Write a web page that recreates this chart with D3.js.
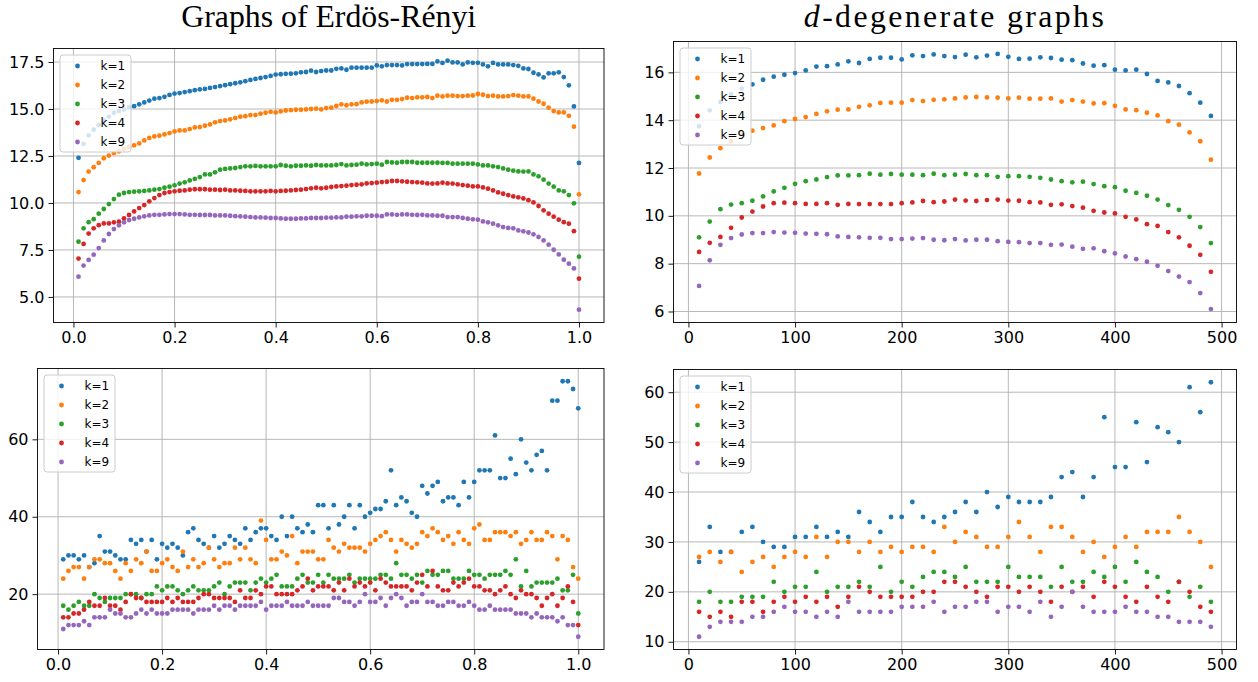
<!DOCTYPE html>
<html>
<head>
<meta charset="utf-8">
<script src="https://cdn.jsdelivr.net/npm/d3@7"></script>
<style>
  body { margin: 0; background: #fff; }
  svg { display: block; }
  text { font-family: "DejaVu Sans", sans-serif; }
</style>
</head>
<body>
<div id="chart"></div>
<script>
const width = 1258;
const height = 682;

const labels = ["k=1", "k=2", "k=3", "k=4", "k=9"];
const colors = ["#1f77b4", "#ff7f0e", "#2ca02c", "#d62728", "#9467bd"];

// x positions: probabilities p for Erdos-Renyi, d for d-degenerate
const erX = d3.range(1, 101).map(i => i / 100);
const degX = d3.range(10, 500, 10);

// top left: Erdos-Renyi, mean values
const erMeanK1 = [12.4,13.15,13.6,13.9,14.15,14.4,14.6,14.8,14.9,14.97,
  15.1,15.15,15.25,15.35,15.45,15.55,15.58,15.65,15.75,15.82,
  15.85,15.9,15.95,16.0,16.05,16.07,16.12,16.17,16.22,16.27,
  16.32,16.37,16.42,16.48,16.55,16.6,16.65,16.7,16.76,16.83,
  16.85,16.87,16.88,16.9,16.95,16.97,17.04,16.97,17.02,17.05,
  17.05,17.14,17.16,17.09,17.2,17.2,17.2,17.2,17.2,17.32,
  17.27,17.34,17.34,17.34,17.32,17.39,17.39,17.39,17.39,17.4,
  17.4,17.53,17.45,17.57,17.48,17.48,17.37,17.48,17.46,17.46,
  17.37,17.27,17.45,17.37,17.37,17.37,17.34,17.3,17.16,17.13,
  16.93,16.84,16.68,16.9,16.9,16.95,16.7,16.26,15.14,12.13];
const erMeanK2 = [10.58,11.22,11.67,11.9,12.13,12.38,12.52,12.66,12.75,12.87,
  12.97,13.07,13.17,13.33,13.46,13.54,13.58,13.65,13.72,13.81,
  13.86,13.86,13.93,14.02,14.04,14.11,14.18,14.29,14.36,14.39,
  14.45,14.52,14.59,14.62,14.68,14.68,14.75,14.8,14.85,14.82,
  14.87,14.92,14.94,14.96,14.96,14.98,15.0,15.02,14.98,15.05,
  15.07,15.16,15.25,15.2,15.25,15.26,15.35,15.39,15.4,15.42,
  15.46,15.4,15.49,15.49,15.53,15.6,15.58,15.62,15.62,15.64,
  15.58,15.71,15.67,15.71,15.71,15.69,15.69,15.71,15.72,15.8,
  15.76,15.69,15.71,15.67,15.67,15.69,15.74,15.71,15.67,15.67,
  15.55,15.4,15.28,15.07,14.89,14.82,14.82,14.64,14.06,10.46];
const erMeanK3 = [7.94,8.65,8.98,9.14,9.43,9.68,9.94,10.21,10.44,10.53,
  10.58,10.6,10.62,10.64,10.67,10.71,10.74,10.81,10.87,10.94,
  11.03,11.1,11.2,11.28,11.38,11.52,11.52,11.63,11.77,11.81,
  11.84,11.86,11.91,11.95,11.95,11.97,11.95,11.95,11.95,11.95,
  12.02,11.98,11.95,11.98,11.98,12.0,11.98,12.02,12.0,12.0,
  12.0,12.02,12.07,12.0,12.02,12.04,12.09,12.05,12.07,12.09,
  12.04,12.18,12.16,12.14,12.18,12.18,12.18,12.14,12.14,12.14,
  12.14,12.14,12.13,12.13,12.09,12.09,12.09,12.09,12.09,12.05,
  12.0,12.0,11.95,11.91,11.84,11.77,11.72,11.68,11.67,11.68,
  11.52,11.42,11.24,11.03,10.87,10.67,10.62,10.42,9.98,7.14];
const erMeanK4 = [7.04,7.82,8.37,8.65,8.82,8.91,8.91,8.97,9.0,9.18,
  9.36,9.55,9.73,9.89,10.09,10.26,10.42,10.53,10.58,10.62,
  10.65,10.67,10.71,10.73,10.73,10.73,10.71,10.71,10.69,10.71,
  10.67,10.67,10.65,10.64,10.62,10.62,10.62,10.62,10.64,10.62,
  10.64,10.65,10.67,10.69,10.71,10.74,10.78,10.81,10.78,10.81,
  10.85,10.88,10.9,10.92,10.95,10.97,10.99,11.04,11.06,11.08,
  11.11,11.13,11.17,11.17,11.15,11.13,11.11,11.1,11.08,11.04,
  11.03,11.04,11.08,11.04,11.03,10.99,10.95,10.92,10.88,10.88,
  10.83,10.76,10.67,10.56,10.49,10.42,10.35,10.3,10.24,10.15,
  10.03,9.84,9.61,9.43,9.27,9.11,8.98,8.9,8.5,5.97];
const erMeanK9 = [6.08,6.67,6.97,7.25,7.6,8.01,8.35,8.61,8.81,8.97,
  9.09,9.16,9.23,9.29,9.34,9.37,9.37,9.39,9.41,9.41,
  9.41,9.39,9.37,9.37,9.36,9.36,9.36,9.34,9.34,9.34,
  9.32,9.3,9.29,9.27,9.25,9.23,9.23,9.22,9.2,9.2,
  9.18,9.16,9.16,9.16,9.18,9.18,9.2,9.2,9.2,9.22,
  9.22,9.23,9.23,9.27,9.27,9.29,9.29,9.32,9.32,9.32,
  9.3,9.39,9.39,9.37,9.39,9.39,9.37,9.36,9.37,9.34,
  9.34,9.32,9.32,9.25,9.25,9.25,9.2,9.16,9.13,9.11,
  9.02,8.97,8.9,8.81,8.72,8.67,8.65,8.54,8.49,8.43,
  8.33,8.19,8.01,7.78,7.51,7.26,6.98,6.77,6.52,4.32];

// bottom left: Erdos-Renyi, max values
const erMaxK1 = [29,30,30,29,30,27,28,35,31,31, 30,29,29,34,33,34,31,34,29,33,
  32,33,32,30,36,37,34,33,32,35, 32,33,35,34,33,37,34,36,37,37,
  35,34,40,35,40,37,36,38,36,43, 43,37,43,38,40,43,37,43,40,41,
  42,42,44,52,43,45,44,41,40,48, 46,48,49,44,45,45,43,49,45,49,
  52,52,52,61,50,50,55,51,60,54, 52,56,57,52,70,70,75,75,73,68];
const erMaxK2 = [24,26,27,27,24,27,29,29,28,28, 26,24,28,26,29,28,31,26,26,28,
  29,27,26,31,27,29,27,28,32,29, 27,28,28,32,29,32,29,28,39,34,
  29,29,31,30,35,28,31,31,31,29, 29,34,32,31,33,32,32,32,31,33,
  34,35,36,34,31,34,33,32,33,36, 35,37,36,34,35,33,36,34,33,37,
  38,34,34,36,36,36,35,36,33,34, 36,34,34,36,35,29,35,34,27,24];
const erMaxK3 = [17,16,17,18,17,17,20,19,18,19, 19,19,20,20,20,19,20,20,22,21,
  22,22,21,20,21,22,21,21,21,22, 23,20,22,23,23,23,21,23,24,23,
  24,25,22,22,22,24,25,23,23,25, 23,25,24,24,24,25,23,24,24,24,
  24,25,25,24,28,25,25,24,25,23, 26,25,25,26,26,24,24,24,26,25,
  25,24,25,25,25,26,25,29,22,26, 22,23,23,23,23,24,21,21,25,15];
const erMaxK4 = [14,14,15,15,16,18,17,17,19,17, 17,16,18,20,19,19,18,18,18,18,
  19,18,19,18,18,18,19,20,20,19, 19,19,19,18,21,19,19,21,20,22,
  22,20,20,20,20,21,22,24,21,22, 22,22,21,23,21,24,22,23,22,23,
  21,24,23,22,22,22,22,21,23,25, 22,26,22,21,21,23,22,23,24,22,
  22,21,21,20,21,22,20,19,21,20, 20,19,17,19,20,17,19,22,18,12];
const erMaxK9 = [11,12,12,12,13,12,14,14,14,16, 15,15,14,14,15,16,15,16,15,15,
  15,16,16,16,16,15,16,16,16,17, 16,17,17,16,17,17,17,17,18,16,
  17,17,17,18,17,17,17,18,17,17, 17,17,19,19,18,18,17,18,20,18,
  18,19,17,19,20,19,17,18,18,20, 18,18,17,17,18,18,17,17,18,17,
  16,16,17,16,16,16,16,15,15,15, 14,15,14,14,14,13,14,12,12,9];

// top right: d-degenerate, mean values
const degMeanK1 = [13.75,14.41,14.76,15.09,15.32,15.5,15.69,15.82,15.9,15.97,
  16.08,16.24,16.26,16.33,16.46,16.39,16.56,16.61,16.61,16.54,
  16.71,16.68,16.75,16.68,16.64,16.74,16.63,16.7,16.77,16.65,
  16.56,16.57,16.63,16.6,16.53,16.51,16.37,16.28,16.3,16.11,
  16.08,16.11,15.93,15.64,15.58,15.43,15.13,14.73,14.18];
const degMeanK2 = [11.77,12.44,12.83,13.12,13.42,13.56,13.67,13.78,13.96,14.05,
  14.13,14.26,14.37,14.44,14.45,14.56,14.62,14.72,14.73,14.73,
  14.84,14.8,14.85,14.87,14.91,14.95,14.97,14.95,14.94,14.91,
  14.94,14.9,14.9,14.91,14.78,14.84,14.78,14.7,14.71,14.6,
  14.45,14.42,14.31,14.2,13.96,13.81,13.49,13.12,12.35];
const degMeanK3 = [9.1,9.76,10.28,10.47,10.53,10.63,10.81,11.02,11.17,11.34,
  11.45,11.52,11.62,11.69,11.69,11.7,11.76,11.72,11.75,11.72,
  11.72,11.7,11.76,11.7,11.72,11.75,11.7,11.7,11.63,11.66,
  11.66,11.63,11.59,11.52,11.45,11.4,11.43,11.33,11.24,11.2,
  11.05,10.96,10.84,10.68,10.45,10.25,9.96,9.53,8.86];
const degMeanK4 = [8.49,8.87,9.12,9.5,9.93,10.18,10.39,10.53,10.55,10.53,
  10.5,10.5,10.53,10.46,10.5,10.49,10.49,10.49,10.49,10.53,
  10.56,10.62,10.57,10.6,10.68,10.64,10.62,10.66,10.68,10.64,
  10.63,10.57,10.56,10.46,10.48,10.41,10.34,10.21,10.14,10.1,
  9.96,9.85,9.65,9.58,9.32,9.1,8.75,8.37,7.66];
const degMeanK9 = [7.07,8.14,8.79,9.07,9.22,9.28,9.28,9.32,9.3,9.29,
  9.26,9.25,9.23,9.14,9.12,9.1,9.08,9.08,9.03,9.03,
  9.05,9.07,9.0,8.98,9.03,8.97,9.0,9.0,8.94,8.91,
  8.9,8.86,8.86,8.79,8.8,8.71,8.62,8.64,8.52,8.43,
  8.3,8.19,8.08,7.91,7.69,7.46,7.23,6.77,6.1];

// bottom right: d-degenerate, max values
const degMaxK1 = [26,33,28,28,32,33,30,29,29,31, 31,33,31,32,31,36,34,32,35,35,
  38,35,34,35,36,38,36,40,37,39, 38,38,38,39,43,44,39,43,55,45,
  45,54,46,53,52,50,61,56,62];
const degMaxK2 = [27,28,26,28,24,26,27,25,27,28, 27,31,27,30,30,28,30,28,29,28,
  29,29,28,33,30,32,31,29,29,31, 34,31,28,33,33,31,28,30,27,29,
  31,29,32,32,32,35,32,30,25];
const degMaxK3 = [18,20,18,18,19,19,19,22,20,21, 21,24,20,21,21,22,21,25,20,22,
  21,23,24,24,23,25,22,22,22,25, 23,23,23,21,25,22,22,24,23,25,
  22,26,24,23,20,22,19,21,18];
const degMaxK4 = [16,15,16,15,18,18,16,18,19,18, 19,18,19,17,19,21,20,19,19,19,
  19,20,20,22,22,21,20,19,21,21, 20,21,20,18,21,20,21,19,22,21,
  19,18,21,19,18,22,20,17,16];
const degMaxK9 = [11,13,14,14,14,15,15,16,17,16, 16,15,16,15,18,16,16,16,16,17,
  17,17,18,16,17,17,18,18,16,17, 17,16,18,15,17,20,17,16,16,16,
  17,16,16,15,15,14,14,14,13];

const svg = d3.select("#chart")
  .append("svg")
  .attr("width", width)
  .attr("height", height);

const panels = [
  { left: 53.5, right: 604, top: 48.5, bottom: 322.5,
    xs: erX, xDomain: [-0.0395, 1.0495], yDomain: [3.64, 18.22],
    xTicks: [0, 0.2, 0.4, 0.6, 0.8, 1.0], xFmt: d3.format(".1f"),
    yTicks: [5, 7.5, 10, 12.5, 15, 17.5], yFmt: d3.format(".1f"),
    series: [erMeanK1, erMeanK2, erMeanK3, erMeanK4, erMeanK9] },
  { left: 37.5, right: 604, top: 368.5, bottom: 649.5,
    xs: erX, xDomain: [-0.0395, 1.0495], yDomain: [5.7, 78.3],
    xTicks: [0, 0.2, 0.4, 0.6, 0.8, 1.0], xFmt: d3.format(".1f"),
    yTicks: [20, 40, 60], yFmt: d3.format("d"),
    series: [erMaxK1, erMaxK2, erMaxK3, erMaxK4, erMaxK9] },
  { left: 673.5, right: 1236.5, top: 41.5, bottom: 322.5,
    xs: degX, xDomain: [-14, 514], yDomain: [5.54, 17.29],
    xTicks: [0, 100, 200, 300, 400, 500], xFmt: d3.format("d"),
    yTicks: [6, 8, 10, 12, 14, 16], yFmt: d3.format("d"),
    series: [degMeanK1, degMeanK2, degMeanK3, degMeanK4, degMeanK9] },
  { left: 673.5, right: 1236.5, top: 369.5, bottom: 649.5,
    xs: degX, xDomain: [-14, 514], yDomain: [8.45, 64.55],
    xTicks: [0, 100, 200, 300, 400, 500], xFmt: d3.format("d"),
    yTicks: [10, 20, 30, 40, 50, 60], yFmt: d3.format("d"),
    series: [degMaxK1, degMaxK2, degMaxK3, degMaxK4, degMaxK9] }
];

function drawPanel(p) {
  const x = d3.scaleLinear().domain(p.xDomain).range([p.left, p.right]);
  const y = d3.scaleLinear().domain(p.yDomain).range([p.bottom, p.top]);
  const g = svg.append("g");

  // grid
  g.append("g").selectAll("line")
    .data(p.xTicks)
    .enter()
    .append("line")
    .attr("x1", d => x(d)).attr("x2", d => x(d))
    .attr("y1", p.top).attr("y2", p.bottom)
    .attr("stroke", "#b0b0b0")
    .attr("stroke-width", 0.9);
  g.append("g").selectAll("line")
    .data(p.yTicks)
    .enter()
    .append("line")
    .attr("x1", p.left).attr("x2", p.right)
    .attr("y1", d => y(d)).attr("y2", d => y(d))
    .attr("stroke", "#b0b0b0")
    .attr("stroke-width", 0.9);

  // axes
  const xAxis = g.append("g")
    .attr("transform", `translate(0,${p.bottom})`)
    .call(d3.axisBottom(x).tickValues(p.xTicks).tickFormat(p.xFmt).tickSize(5).tickPadding(4));
  const yAxis = g.append("g")
    .attr("transform", `translate(${p.left},0)`)
    .call(d3.axisLeft(y).tickValues(p.yTicks).tickFormat(p.yFmt).tickSize(5).tickPadding(4));
  [xAxis, yAxis].forEach(a => {
    a.select(".domain").remove();
    a.selectAll("line").attr("stroke", "#000").attr("stroke-width", 0.9);
    a.selectAll("text")
      .attr("fill", "#000")
      .style("font-size", "16px")
      .style("font-family", "'DejaVu Sans', sans-serif");
  });

  // points, k=1 first so k=9 ends on top
  p.series.forEach((vals, i) => {
    g.append("g").selectAll("circle")
      .data(vals)
      .enter()
      .append("circle")
      .attr("cx", (d, j) => x(p.xs[j]))
      .attr("cy", d => y(d))
      .attr("r", 2.4)
      .attr("fill", colors[i]);
  });

  // spines
  g.append("rect")
    .attr("x", p.left).attr("y", p.top)
    .attr("width", p.right - p.left)
    .attr("height", p.bottom - p.top)
    .attr("fill", "none")
    .attr("stroke", "#000")
    .attr("stroke-width", 0.9);

  // legend
  const lg = g.append("g").attr("transform", `translate(${p.left + 6.5},${p.top + 6.5})`);
  lg.append("rect")
    .attr("width", 71).attr("height", 97)
    .attr("rx", 3).attr("ry", 3)
    .attr("fill", "#fff").attr("fill-opacity", 0.8)
    .attr("stroke", "#cccccc").attr("stroke-width", 1);
  const rows = lg.selectAll(".row")
    .data(labels)
    .enter()
    .append("g")
    .attr("transform", (d, i) => `translate(0,${11 + i * 19})`);
  rows.append("circle")
    .attr("cx", 17.5).attr("cy", 0).attr("r", 2.4)
    .attr("fill", (d, i) => colors[i]);
  rows.append("text")
    .attr("x", 40.5).attr("y", 0)
    .attr("dy", "0.35em")
    .style("font-size", "12px")
    .attr("fill", "#000")
    .text(d => d);
}

panels.forEach(drawPanel);

// column titles, same font size for both; the right one is spaced out a little
function title(cx, parts, size) {
  const t = svg.append("text")
    .attr("x", cx).attr("y", 27)
    .attr("text-anchor", "middle")
    .style("font-family", "'Liberation Serif', serif")
    .style("font-size", size + "px")
    .attr("fill", "#000");
  parts.forEach(([s, italic]) => {
    t.append("tspan").text(s).style("font-style", italic ? "italic" : "normal");
  });
  return t;
}
const leftTitle = title(328.7, [["Graphs of Erdös-Rényi", false]], 26);
const titleSize = 26 * 295 / leftTitle.node().getComputedTextLength();
leftTitle.style("font-size", titleSize.toFixed(2) + "px");
const rightTitle = title(955, [["d", true], ["-degenerate graphs", false]], titleSize.toFixed(2));
const rw = rightTitle.node().getComputedTextLength();
if (rw < 300) {
  rightTitle.style("letter-spacing", ((300 - rw) / 18).toFixed(2) + "px");
}
</script>
</body>
</html>
